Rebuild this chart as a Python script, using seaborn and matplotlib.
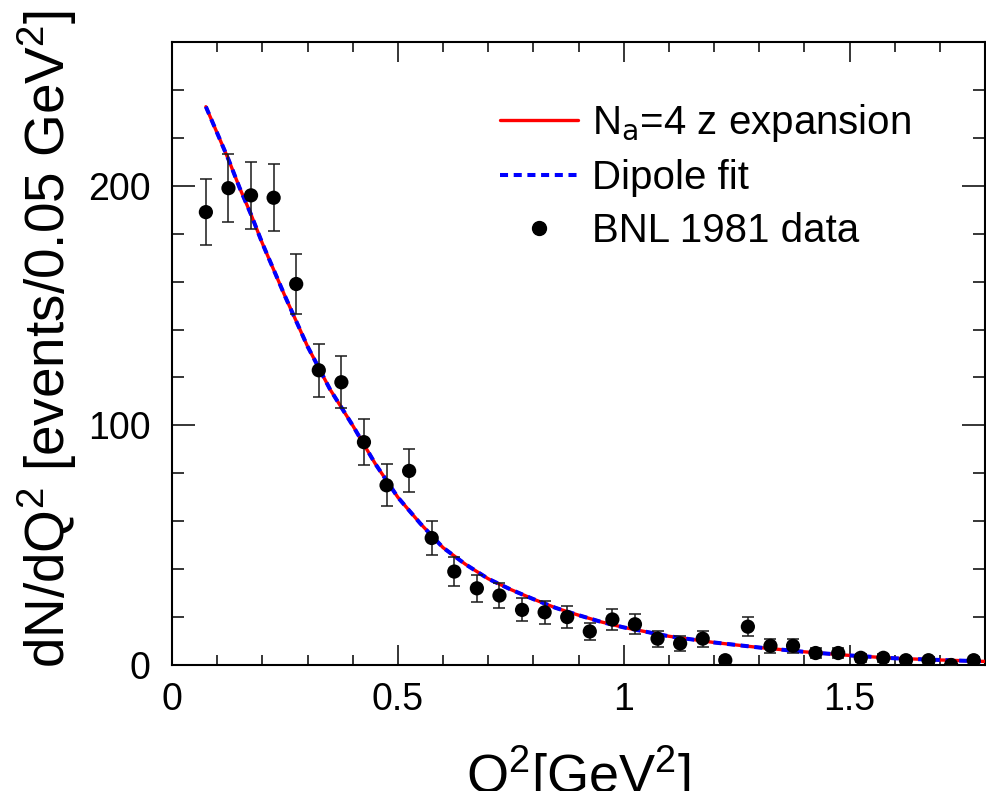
import numpy as np
import pandas as pd
import matplotlib
matplotlib.use("Agg")
import matplotlib.pyplot as plt
from matplotlib.lines import Line2D
from matplotlib.ticker import FixedLocator, MultipleLocator
import seaborn as sns

# ---- data ----
q2_bins = [0.075, 0.125, 0.175, 0.225, 0.275, 0.325, 0.375, 0.425, 0.475, 0.525,
           0.575, 0.625, 0.675, 0.725, 0.775, 0.825, 0.875, 0.925, 0.975, 1.025,
           1.075, 1.125, 1.175, 1.225, 1.275, 1.325, 1.375, 1.425, 1.475, 1.525,
           1.575, 1.625, 1.675, 1.725, 1.775]
counts = [189, 199, 196, 195, 159, 123, 118, 93, 75, 81,
          53, 39, 32, 29, 23, 22, 20, 14, 19, 17,
          11, 9, 11, 2, 16, 8, 8, 5, 5, 3,
          3, 2, 2, 0, 2]
count_err = [13.7, 14.1, 14.0, 14.0, 12.6, 11.1, 10.9, 9.6, 8.7, 9.0,
             7.3, 6.2, 5.7, 5.4, 4.8, 4.7, 4.5, 3.7, 4.4, 4.1,
             3.3, 3.0, 3.3, 1.4, 4.0, 2.8, 2.8, 2.2, 2.2, 1.7,
             1.7, 1.4, 1.4, 0.0, 1.4]

curve_q2 = [0.075, 0.10, 0.125, 0.15, 0.175, 0.20, 0.225, 0.25, 0.30, 0.35,
            0.40, 0.45, 0.50, 0.55, 0.60, 0.65, 0.70, 0.75, 0.80, 0.85,
            0.90, 0.95, 1.00, 1.10, 1.20, 1.30, 1.40, 1.50, 1.60, 1.70, 1.80]
zexp_fit = [233, 222, 211, 199, 188, 176, 165, 154, 133, 115,
            100, 84, 70, 59, 49, 42, 36, 31.5, 27.5, 23.8,
            20.8, 18.0, 15.7, 12.0, 9.4, 7.3, 5.5, 4.0, 2.8, 2.1, 1.5]
dipole_fit = [233, 222, 211, 199, 188, 176, 165, 154, 133, 115,
              100, 84, 70, 59, 49, 42, 36, 31.5, 27.5, 23.8,
              20.8, 18.0, 15.7, 12.0, 9.4, 7.3, 5.5, 4.0, 2.8, 2.1, 1.5]

legend_labels = ["N$_\\mathrm{a}$=4 z expansion", "Dipole fit", "BNL 1981 data"]
x_ticks = [0, 0.5, 1, 1.5]
x_ticklabels = ["0", "0.5", "1", "1.5"]
y_ticks = [0, 100, 200]
y_ticklabels = ["0", "100", "200"]

df_data = pd.DataFrame({"q2": q2_bins, "n": counts, "err": count_err})
df_curve = pd.DataFrame({"q2": curve_q2, "zexp": zexp_fit, "dipole": dipole_fit})

# ---- style ----
sns.set_theme(style="ticks")
plt.rcParams["font.family"] = ["Liberation Sans", "DejaVu Sans"]
plt.rcParams["mathtext.default"] = "regular"
plt.rcParams["axes.linewidth"] = 1.5
plt.rcParams["text.color"] = "black"
plt.rcParams["legend.labelcolor"] = "black"

W, H = 987, 791
fig = plt.figure(figsize=(W / 100, H / 100), dpi=100)
ax = fig.add_axes([172 / W, 1 - 665 / H, (985 - 172) / W, (665 - 42) / H])

sns.lineplot(data=df_curve, x="q2", y="zexp", ax=ax, color="#ff0000", lw=2.4,
             zorder=3)
sns.lineplot(data=df_curve, x="q2", y="dipole", ax=ax, color="#0000ff", lw=2.9,
             linestyle=(0, (2.0, 1.4)), zorder=4)
ax.errorbar(df_data["q2"], df_data["n"], yerr=df_data["err"], fmt="none",
            ecolor="#1a1a1a", elinewidth=1.1, capsize=4.5, capthick=1.1, zorder=5)
sns.scatterplot(data=df_data, x="q2", y="n", ax=ax, color="black", s=105,
                edgecolor="none", zorder=6)

ax.set_xlim(0, 1.8)
ax.set_ylim(0, 260)
ax.xaxis.set_major_locator(FixedLocator(x_ticks))
ax.set_xticklabels(x_ticklabels)
ax.xaxis.set_minor_locator(MultipleLocator(0.1))
ax.yaxis.set_major_locator(FixedLocator(y_ticks))
ax.set_yticklabels(y_ticklabels)
ax.yaxis.set_minor_locator(MultipleLocator(20))

ax.tick_params(axis="both", which="both", direction="in", top=True, right=True,
               width=1.1, colors="black", labelcolor="black")
ax.tick_params(axis="x", which="major", length=14.4, labelsize=27, pad=12)
ax.tick_params(axis="x", which="minor", length=7.2)
ax.tick_params(axis="y", which="major", length=16.5, labelsize=27, pad=15.5)
ax.tick_params(axis="y", which="minor", length=8.3)
for s in ax.spines.values():
    s.set_color("black")
    s.set_linewidth(1.5)

ax.set_xlabel("")
ax.set_ylabel("")
fig.text(578 / W, 1 - 744 / H, "Q$^2$[GeV$^2$]", ha="center", va="top",
         fontsize=39, color="black")
fig.text(47 / W, 1 - 339 / H, "dN/dQ$^2$ [events/0.05 GeV$^2$]", ha="center",
         va="center", rotation=90, fontsize=39.5, color="black")

handles = [
    Line2D([], [], color="#ff0000", lw=2.4),
    Line2D([], [], color="#0000ff", lw=2.9, linestyle=(0, (2.0, 1.4))),
    Line2D([], [], color="black", marker="o", markersize=10, linestyle="none"),
]
leg = ax.legend(handles, legend_labels, loc="upper left",
                bbox_to_anchor=(500 / W, 1 - 102 / H), bbox_transform=fig.transFigure,
                frameon=False, fontsize=29, handlelength=1.94, handletextpad=0.35,
                labelspacing=0.37, borderpad=0, borderaxespad=0)
for t in leg.get_texts():
    t.set_color("black")

fig.savefig("out.png", dpi=100)
